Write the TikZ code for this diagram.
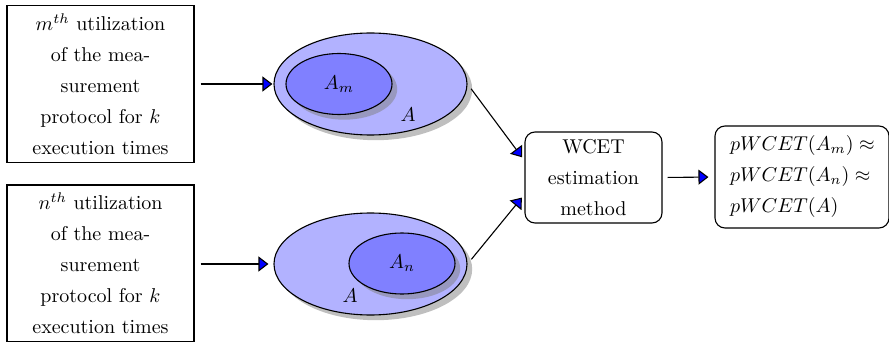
\documentclass[tikz,border=0pt]{standalone}
\usetikzlibrary{shapes.geometric,shadows,arrows.meta}
\begin{document}
\begin{tikzpicture}[x=0.5pt,y=-0.5pt, line width=0.55pt,
  every node/.style={font=\fontsize{10}{15.5}\selectfont},
  protobox/.style={draw, align=center, text width=86pt, minimum width=93.5pt,
    minimum height=78.5pt, inner sep=3.3pt},
  outerset/.style={ellipse, draw, fill=blue!30, minimum width=96.5pt,
    minimum height=51pt, inner sep=0pt,
    drop shadow={shadow xshift=2.6pt, shadow yshift=-2.6pt}},
  innerset/.style={ellipse, draw, fill=blue!50, minimum width=53pt,
    minimum height=30.5pt, inner sep=0pt,
    drop shadow={shadow xshift=2.6pt, shadow yshift=-2.6pt}},
  roundbox/.style={draw, rounded corners=5pt},
  flow/.style={-{Triangle[length=5pt,width=7.5pt,fill=blue]}, shorten <=3pt}
]
\useasboundingbox (0,0) rectangle (889,342);

% measurement protocol runs
\node[protobox] (pm) at (100.5,84)
  {$m^{th}$ utilization\\of the mea-\\surement\\protocol for $k$\\execution times};
\node[protobox] (pn) at (100.5,263.5)
  {$n^{th}$ utilization\\of the mea-\\surement\\protocol for $k$\\execution times};

% sets of execution conditions
\node[outerset] (sm) at (370.5,84) {};
\node[innerset] (am) at (339,84) {$A_m$};
\node (lm) at (408,115) {$A$};

\node[outerset] (sn) at (370.5,264) {};
\node[innerset] (an) at (402,263.5) {$A_n$};
\node (ln) at (350,296) {$A$};

% estimation and result
\node[roundbox, align=center, minimum width=68.5pt, minimum height=45.5pt,
  inner sep=3pt] (w) at (593.5,177.5) {WCET\\estimation\\method};
\node[roundbox, align=left, text width=72pt, inner xsep=7.5pt,
  minimum height=51pt] (r) at (802,177)
  {$pWCET(A_m)\approx$\\$pWCET(A_n)\approx$\\$pWCET(A)$};

% connectors
\draw[flow, shorten >=0.5pt] (pm.east) -- (sm.west);
\draw[flow, shorten >=2.5pt] (pn.east |- sn.west) -- (sn.west);
\draw[flow, shorten >=2pt] (sm.east) -- ([yshift=8.5pt]w.west);
\draw[flow, shorten >=2pt] (sn.east) -- ([yshift=-8.5pt]w.west);
\draw[flow, shorten <=2.5pt, shorten >=3pt] (w.east) -- (r.west);
\end{tikzpicture}
\end{document}
